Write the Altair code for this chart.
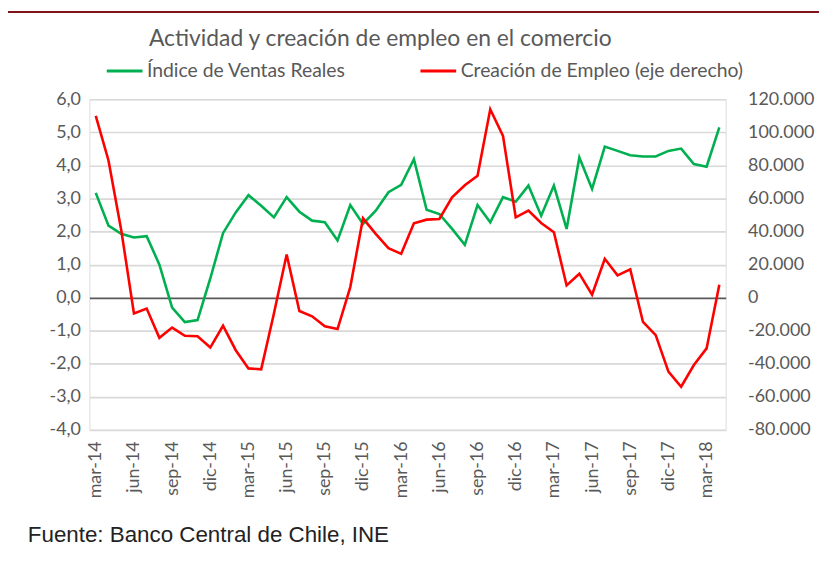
import altair as alt
import pandas as pd

months = [
    "mar-14", "abr-14", "may-14", "jun-14", "jul-14", "ago-14", "sep-14", "oct-14", "nov-14", "dic-14",
    "ene-15", "feb-15", "mar-15", "abr-15", "may-15", "jun-15", "jul-15", "ago-15", "sep-15", "oct-15",
    "nov-15", "dic-15", "ene-16", "feb-16", "mar-16", "abr-16", "may-16", "jun-16", "jul-16", "ago-16",
    "sep-16", "oct-16", "nov-16", "dic-16", "ene-17", "feb-17", "mar-17", "abr-17", "may-17", "jun-17",
    "jul-17", "ago-17", "sep-17", "oct-17", "nov-17", "dic-17", "ene-18", "feb-18", "mar-18", "abr-18",
]
tick_months = [
    "mar-14", "jun-14", "sep-14", "dic-14", "mar-15", "jun-15", "sep-15", "dic-15", "mar-16",
    "jun-16", "sep-16", "dic-16", "mar-17", "jun-17", "sep-17", "dic-17", "mar-18",
]
ventas = [
    3.17, 2.18, 1.93, 1.82, 1.86, 1.0, -0.3, -0.74, -0.68, 0.58,
    1.95, 2.58, 3.1, 2.78, 2.43, 3.04, 2.6, 2.33, 2.28, 1.73,
    2.8, 2.23, 2.63, 3.19, 3.41, 4.19, 2.66, 2.53, 2.08, 1.6,
    2.8, 2.28, 3.04, 2.9, 3.39, 2.48, 3.39, 2.08, 4.24, 3.29,
    4.57, 4.44, 4.31, 4.27, 4.27, 4.44, 4.51, 4.04, 3.96, 5.15,
]
empleo = [
    110000, 83000, 41000, -9600, -6600, -24300, -18100, -23100, -23300, -30200,
    -17000, -31800, -42800, -43400, -9600, 26100, -8100, -11300, -17300, -19000,
    6400, 48000, 38600, 30000, 26500, 45000, 47200, 47600, 60700, 68000,
    73800, 114000, 97900, 48600, 52700, 45200, 39600, 7400, 14500, 1800,
    23500, 13500, 17100, -14700, -22700, -44800, -53900, -40800, -30700, 7800,
]
series_names = ["Índice de Ventas Reales", "Creación de Empleo (eje derecho)"]
series_colors = ["#00B050", "#FF0000"]
left_ticks = [-4, -3, -2, -1, 0, 1, 2, 3, 4, 5, 6]
right_ticks = [-80000, -60000, -40000, -20000, 0, 20000, 40000, 60000, 80000, 100000, 120000]

title_text = "Actividad y creación de empleo en el comercio"
footer_text = "Fuente: Banco Central de Chile, INE"

df = pd.DataFrame({"mes": months, "ventas": ventas, "empleo": empleo})

W, H = 641, 333
FONT = "Lato"
GRAY = "#595959"
AXFS = 18

color_scale = alt.Scale(domain=series_names, range=series_colors)

base = alt.Chart(df).encode(
    x=alt.X(
        "mes:O",
        sort=months,
        scale=alt.Scale(type="point", padding=0.5),
        axis=alt.Axis(
            values=tick_months, title=None, labelAngle=270, domain=False, ticks=False,
            labelPadding=11, labelFont=FONT, labelFontSize=AXFS, labelColor=GRAY,
            labelOverlap=False,
        ),
    )
)

green = base.mark_line(strokeWidth=2.6).transform_calculate(
    serie="'" + series_names[0] + "'"
).encode(
    y=alt.Y(
        "ventas:Q",
        scale=alt.Scale(domain=[-4, 6], nice=False, zero=False),
        axis=alt.Axis(
            values=left_ticks, title=None, orient="left", domain=False, ticks=False,
            grid=True,
            gridColor=alt.condition("datum.value === 0", alt.value("#595959"), alt.value("#D9D9D9")),
            gridWidth=1.6, labelPadding=9,
            labelFont=FONT, labelFontSize=AXFS, labelColor=GRAY, labelOverlap=False,
            labelExpr="replace(replace(format(datum.value, '.1f'), '.', ','), '\u2212', '-')",
        ),
    ),
    color=alt.Color(
        "serie:N",
        scale=color_scale,
        legend=alt.Legend(
            title=None, orient="none", legendX=16, legendY=-48, direction="horizontal",
            symbolType="stroke", symbolSize=1296, symbolStrokeWidth=3, labelOffset=3,
            labelFont=FONT, labelFontSize=19.5, labelColor=GRAY, columnPadding=68,
            labelLimit=0,
        ),
    ),
)

red = base.mark_line(strokeWidth=2.6).transform_calculate(
    serie="'" + series_names[1] + "'"
).encode(
    y=alt.Y(
        "empleo:Q",
        scale=alt.Scale(domain=[-80000, 120000], nice=False, zero=False),
        axis=alt.Axis(
            values=right_ticks, title=None, orient="right", domain=False, ticks=False,
            grid=False, labelPadding=22, labelFont=FONT, labelFontSize=AXFS, labelColor=GRAY,
            labelOverlap=False,
            labelExpr="replace(replace(format(datum.value, ',.0f'), ',', '.'), '\u2212', '-')",
        ),
    ),
    color=alt.Color("serie:N", scale=color_scale),
)

border = alt.Chart(pd.DataFrame({"b": [0]})).mark_rect(
    filled=False, stroke="#7F1518", strokeWidth=2
).encode(
    x=alt.value(-84), x2=alt.value(736), y=alt.value(-88), y2=alt.value(480)
)

title = alt.Chart(pd.DataFrame({"t": [title_text]})).mark_text(
    align="left", baseline="middle", font=FONT, fontSize=23, color=GRAY
).encode(text="t:N", x=alt.value(60), y=alt.value(-61))

footer = alt.Chart(pd.DataFrame({"t": [footer_text]})).mark_text(
    align="left", baseline="middle", font="Liberation Sans", fontSize=22.5, color="#222222"
).encode(text="t:N", x=alt.value(-62), y=alt.value(439))

chart = alt.layer(green, red, border, title, footer).resolve_scale(y="independent").properties(
    width=W,
    height=H,
    autosize=alt.AutoSizeParams(type="none"),
    padding={"left": 82, "top": 90, "right": 94, "bottom": 118},
).configure_view(stroke=None).configure(background="white")

chart.save("out.html", embed_options={"renderer": "svg", "actions": False})
